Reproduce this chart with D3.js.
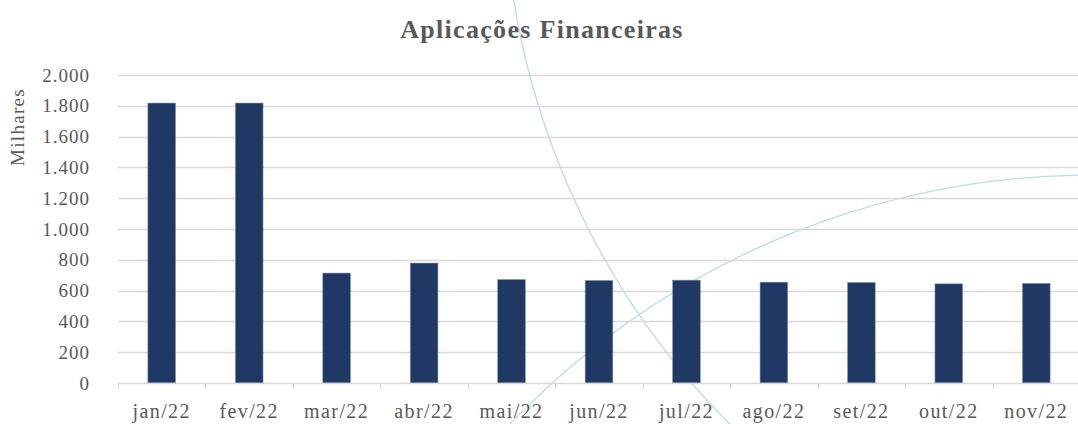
<!DOCTYPE html>
<html>
<head>
<meta charset="utf-8">
<script src="https://cdn.jsdelivr.net/npm/d3@7"></script>
<style>
  body { margin: 0; background: #fff; }
  svg { display: block; font-family: "Liberation Serif", "Times New Roman", serif; }
</style>
</head>
<body>
<div id="chart"></div>
<script>
// chart data
const months = ["jan/22", "fev/22", "mar/22", "abr/22", "mai/22", "jun/22",
                "jul/22", "ago/22", "set/22", "out/22", "nov/22"];
const values = [1818, 1818, 714, 779, 672, 666, 668, 655, 653, 644, 647];
const yTicks = [0, 200, 400, 600, 800, 1000, 1200, 1400, 1600, 1800, 2000];

// decorative background arcs of the page theme (centre x, centre y, radius)
const decorArcs = [[1280, -123, 776], [1093, 982, 807]];

const fullW = 1078, fullH = 424;
const margin = { top: 75, right: -2, bottom: 41, left: 118 };
const W = fullW - margin.left - margin.right;
const H = fullH - margin.top - margin.bottom;

const svg = d3.select("#chart").append("svg")
  .attr("width", fullW)
  .attr("height", fullH);

// background decoration
svg.append("g")
  .selectAll("circle")
  .data(decorArcs)
  .join("circle")
  .attr("cx", d => d[0])
  .attr("cy", d => d[1])
  .attr("r", d => d[2])
  .attr("fill", "none")
  .attr("stroke", "#bcdbe8")
  .attr("stroke-width", 1.3);

svg.append("text")
  .attr("x", 542)
  .attr("y", 38)
  .attr("text-anchor", "middle")
  .style("font-size", "26px")
  .style("font-weight", "bold")
  .style("letter-spacing", "1.3px")
  .style("fill", "#595959")
  .text("Aplicações Financeiras");

const g = svg.append("g").attr("transform", `translate(${margin.left},${margin.top})`);

const x = d3.scaleBand().domain(months).range([0, W])
  .paddingInner(0.683).paddingOuter(0.3415);
const y = d3.scaleLinear().domain([0, 2000]).range([H, 0]);

// gridlines
g.append("g")
  .selectAll("line")
  .data(yTicks.filter(d => d > 0))
  .join("line")
  .attr("x1", 0).attr("x2", W)
  .attr("y1", d => Math.round(y(d)) + 0.5)
  .attr("y2", d => Math.round(y(d)) + 0.5)
  .attr("stroke", "#d9d9d9")
  .attr("stroke-width", 1.3);

// y labels
g.append("g")
  .selectAll("text")
  .data(yTicks)
  .join("text")
  .attr("x", -28)
  .attr("y", d => y(d))
  .attr("dy", "0.35em")
  .attr("text-anchor", "end")
  .style("font-size", "19px")
  .style("letter-spacing", "1px")
  .style("fill", "#595959")
  .text(d => d3.format(",")(d).replace(/,/g, "."));

svg.append("text")
  .attr("transform", "translate(24,127) rotate(-90)")
  .attr("text-anchor", "middle")
  .style("font-size", "19px")
  .style("letter-spacing", "1.3px")
  .style("fill", "#595959")
  .text("Milhares");

// bars
g.selectAll(".bar")
  .data(months.map((m, i) => ({ m, v: values[i] })))
  .join("rect")
  .attr("class", "bar")
  .attr("x", d => x(d.m))
  .attr("y", d => y(d.v))
  .attr("width", x.bandwidth())
  .attr("height", d => H - y(d.v))
  .attr("fill", "#203864")
  .attr("stroke", "#8e9bb5")
  .attr("stroke-width", 0.6);

// x axis
const step = x.step();
const xAxis = g.append("g").attr("transform", `translate(0,${H})`);
xAxis.append("line")
  .attr("x1", 0).attr("x2", W)
  .attr("y1", 0.5).attr("y2", 0.5)
  .attr("stroke", "#d9d9d9")
  .attr("stroke-width", 1.3);
xAxis.selectAll(".tick")
  .data(d3.range(months.length + 1))
  .join("line")
  .attr("x1", i => Math.round(i * step) + 0.5)
  .attr("x2", i => Math.round(i * step) + 0.5)
  .attr("y1", 0).attr("y2", 6)
  .attr("stroke", "#d9d9d9")
  .attr("stroke-width", 1.3);
xAxis.selectAll(".xlab")
  .data(months)
  .join("text")
  .attr("class", "xlab")
  .attr("x", d => x(d) + x.bandwidth() / 2)
  .attr("y", 35)
  .attr("text-anchor", "middle")
  .style("font-size", "20px")
  .style("letter-spacing", "1.4px")
  .style("fill", "#595959")
  .text(d => d);
</script>
</body>
</html>
